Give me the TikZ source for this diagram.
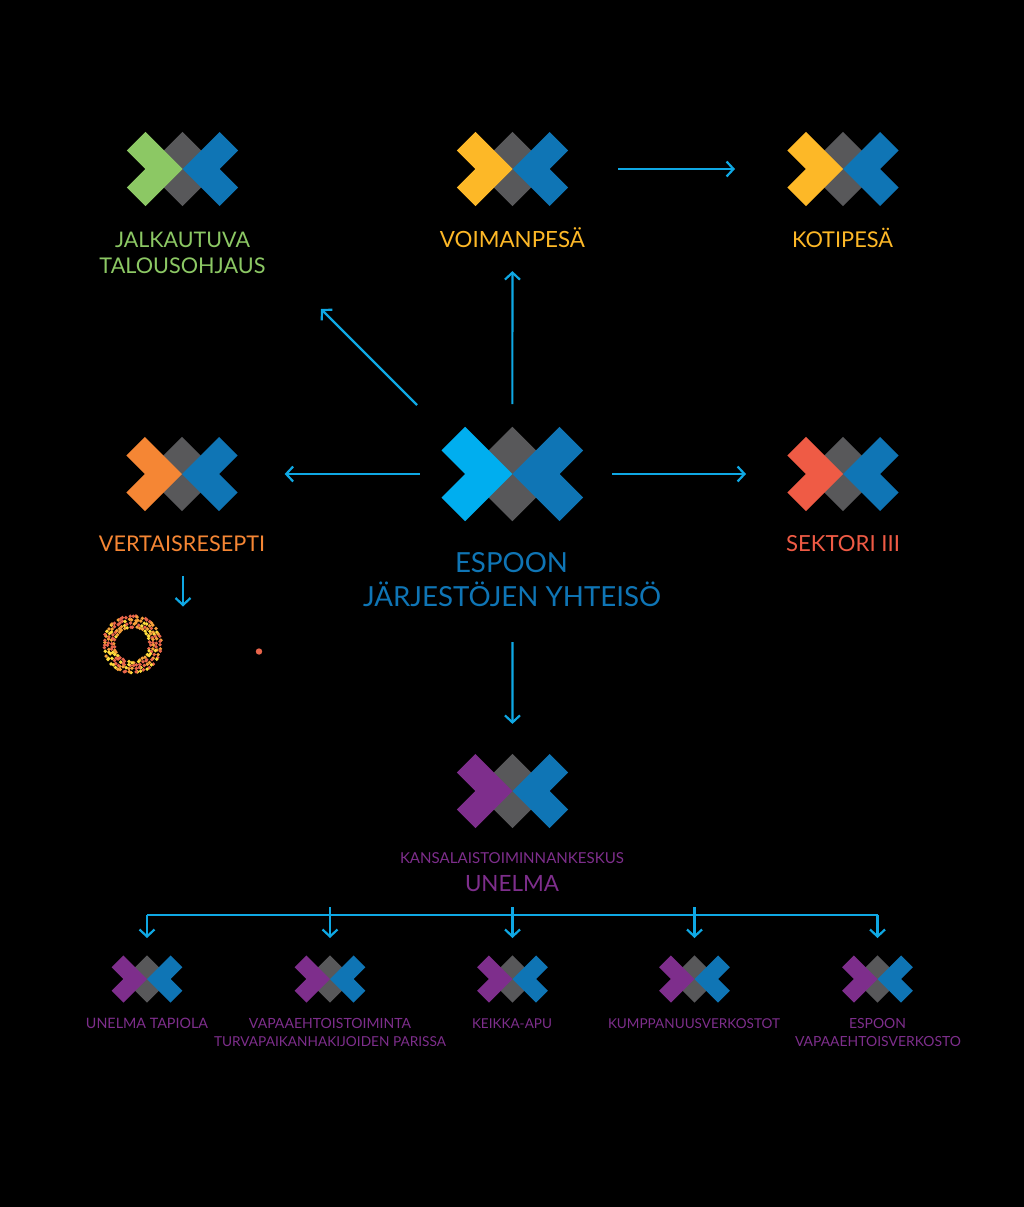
\documentclass[tikz,border=0pt]{standalone}
\usepackage{fontspec}
\usepackage{graphicx}
\setmainfont{Lato}
\usetikzlibrary{arrows.meta}
\definecolor{cgreen}{HTML}{8CC864}
\definecolor{cyellow}{HTML}{FDB827}
\definecolor{corange}{HTML}{F58634}
\definecolor{cred}{HTML}{EF5B45}
\definecolor{cblue}{HTML}{0F75B5}
\definecolor{ccyan}{HTML}{00AEEF}
\definecolor{cpurple}{HTML}{7E2E8C}
\definecolor{cgrey}{HTML}{58585A}
\definecolor{carrow}{HTML}{0FA8E4}
\definecolor{dota}{HTML}{FFDC3C}
\definecolor{dotb}{HTML}{F7A13A}
\definecolor{dotc}{HTML}{E8654B}
\tikzset{
  conn/.style={draw=carrow,line width=2.2pt,-{Straight Barb[length=7pt,width=15pt,line width=2.2pt]}},
  busline/.style={draw=carrow,line width=2.2pt},
  lab/.style={anchor=base,inner sep=0pt,outer sep=0pt},
  logobox/.style={inner sep=0pt,outer sep=0pt,minimum width=#1*6pt,minimum height=#1*4pt},
}
% \logo{name}{cx}{cy}{a}{left colour}
\newcommand\logo[5]{%
  \begin{scope}[shift={(#2,#3)},x=#4pt,y=#4pt]
    \fill[cgrey] (0,2)--(2,0)--(0,-2)--(-2,0)--cycle;
    \fill[#5] (0,0)--(-2,2)--(-3,1)--(-2,0)--(-3,-1)--(-2,-2)--cycle;
    \fill[cblue] (0,0)--(2,2)--(3,1)--(2,0)--(3,-1)--(2,-2)--cycle;
  \end{scope}
  \node[logobox=#4] (#1) at (#2,#3) {};
}
\newcommand\fit[2]{\resizebox{#1pt}{!}{#2}}
\begin{document}
\begin{tikzpicture}[x=1pt,y=-1pt]
\fill[black] (0,0) rectangle (1024,1207);
\useasboundingbox (0,0) rectangle (1024,1207);
% logos
\logo{jalka}{182.5}{169}{18.55}{cgreen}
\logo{voima}{512.5}{169}{18.55}{cyellow}
\logo{koti}{843}{169}{18.55}{cyellow}
\logo{vert}{182}{474}{18.55}{corange}
\logo{sekt}{843}{474}{18.55}{cred}
\logo{hub}{512.3}{474}{23.6}{ccyan}
\logo{unel}{512.5}{791}{18.55}{cpurple}
\logo{sa}{147}{979}{11.8}{cpurple}
\logo{sb}{330}{979}{11.8}{cpurple}
\logo{sc}{512.5}{979}{11.8}{cpurple}
\logo{sd}{694.5}{979}{11.8}{cpurple}
\logo{se}{877.5}{979}{11.8}{cpurple}
% labels
\begin{scope}[font=\fontsize{21}{21}\selectfont]
\node[lab,text=cgreen] (ljalka) at (182.5,247) {\fit{135}{JALKAUTUVA}};
\node[lab,text=cgreen] (ljalkb) at (182.5,273) {\fit{166}{TALOUSOHJAUS}};
\node[lab,text=cyellow] (lvoima) at (512.5,247) {\fit{145}{VOIMANPESÄ}};
\node[lab,text=cyellow] (lkoti) at (842.5,247) {\fit{101}{KOTIPESÄ}};
\node[lab,text=corange] (lvert) at (182,551.5) {\fit{166}{VERTAISRESEPTI}};
\node[lab,text=cred] (lsekt) at (843,551.5) {\fit{114}{SEKTORI III}};
\end{scope}
\begin{scope}[font=\fontsize{29}{29}\selectfont]
\node[lab,text=cblue] (lhuba) at (511.5,572) {\fit{113}{ESPOON}};
\node[lab,text=cblue] (lhubb) at (512,606) {\fit{298}{JÄRJESTÖJEN YHTEISÖ}};
\end{scope}
\node[lab,text=cpurple,font=\fontsize{14}{14}\selectfont] (lkansa) at (512,863) {\fit{224}{KANSALAISTOIMINNANKESKUS}};
\node[lab,text=cpurple,font=\fontsize{21}{21}\selectfont] (lunel) at (512,891) {\fit{94}{UNELMA}};
\begin{scope}[font=\fontsize{14}{14}\selectfont,text=cpurple]
\node[lab] (lsa) at (147,1028) {\fit{122}{UNELMA TAPIOLA}};
\node[lab] (lsb) at (330,1028) {\fit{162}{VAPAAEHTOISTOIMINTA}};
\node[lab] (lsbb) at (330,1046) {\fit{232}{TURVAPAIKANHAKIJOIDEN PARISSA}};
\node[lab] (lsc) at (512,1028) {\fit{80}{KEIKKA-APU}};
\node[lab] (lsd) at (694,1028) {\fit{172}{KUMPPANUUSVERKOSTOT}};
\node[lab] (lse) at (877.5,1028) {\fit{57}{ESPOON}};
\node[lab] (lseb) at (878,1046) {\fit{166}{VAPAAEHTOISVERKOSTO}};
\end{scope}
% ring of dots: concentric bands with random jitter and colour
\pgfmathsetseed{4711}
\foreach \rr/\nn in {17.8/36,21/44,24.6/50,28.2/58}{
  \foreach \i in {1,...,\nn}{
    \pgfmathsetmacro\ang{\i/\nn*360+rnd*6}
    \pgfmathsetmacro\rad{\rr+rnd*1.6-0.8}
    \pgfmathtruncatemacro\pick{int(rnd*3)}
    \ifcase\pick\def\dc{dota}\or\def\dc{dotb}\else\def\dc{dotc}\fi
    \pgfmathsetmacro\px{132.3+\rad*cos(\ang)}
    \pgfmathsetmacro\py{644.3+\rad*sin(\ang)}
    \fill[\dc] (\px,\py) circle[radius=1.9];
  }
}
\fill[dotc] (259,651.5) circle[radius=3.2];
% free ends
\coordinate (jalkaend) at (321,309);
\coordinate (hubdiag) at (417,405);
\coordinate (vertout) at (183,576);
\coordinate (ringin) at (183,606.5);
\coordinate (busl) at (147,915);
\coordinate (busr) at (877.5,915);
\coordinate (tickb) at (330,907);
\coordinate (tickc) at (512.5,907);
\coordinate (tickd) at (694.5,907);
\coordinate (busa) at (147,915);
% connectors
\draw[conn,shorten <=50pt,shorten >=52.3pt] (voima) -- (koti);
\draw[conn,shorten <=22.8pt,shorten >=65pt] (hub) -- (voima);
\draw[conn] (hubdiag) -- (jalkaend);
\draw[conn,shorten <=22pt,shorten >=47pt] (hub) -- (vert);
\draw[conn,shorten <=29pt,shorten >=41.3pt] (hub) -- (sekt);
\draw[conn] (vertout) -- (ringin);
\draw[conn,shorten <=121pt,shorten >=30pt] (hub) -- (unel);
\draw[busline] (busl) -- (busr);
\draw[conn,shorten >=17.4pt] (busa) -- (sa);
\draw[conn,shorten >=17.4pt] (tickb) -- (sb);
\draw[conn,shorten >=17.4pt] (tickc) -- (sc);
\draw[conn,shorten >=17.4pt] (tickd) -- (sd);
\draw[conn,shorten >=17.4pt] (busr) -- (se);
\end{tikzpicture}
\end{document}
